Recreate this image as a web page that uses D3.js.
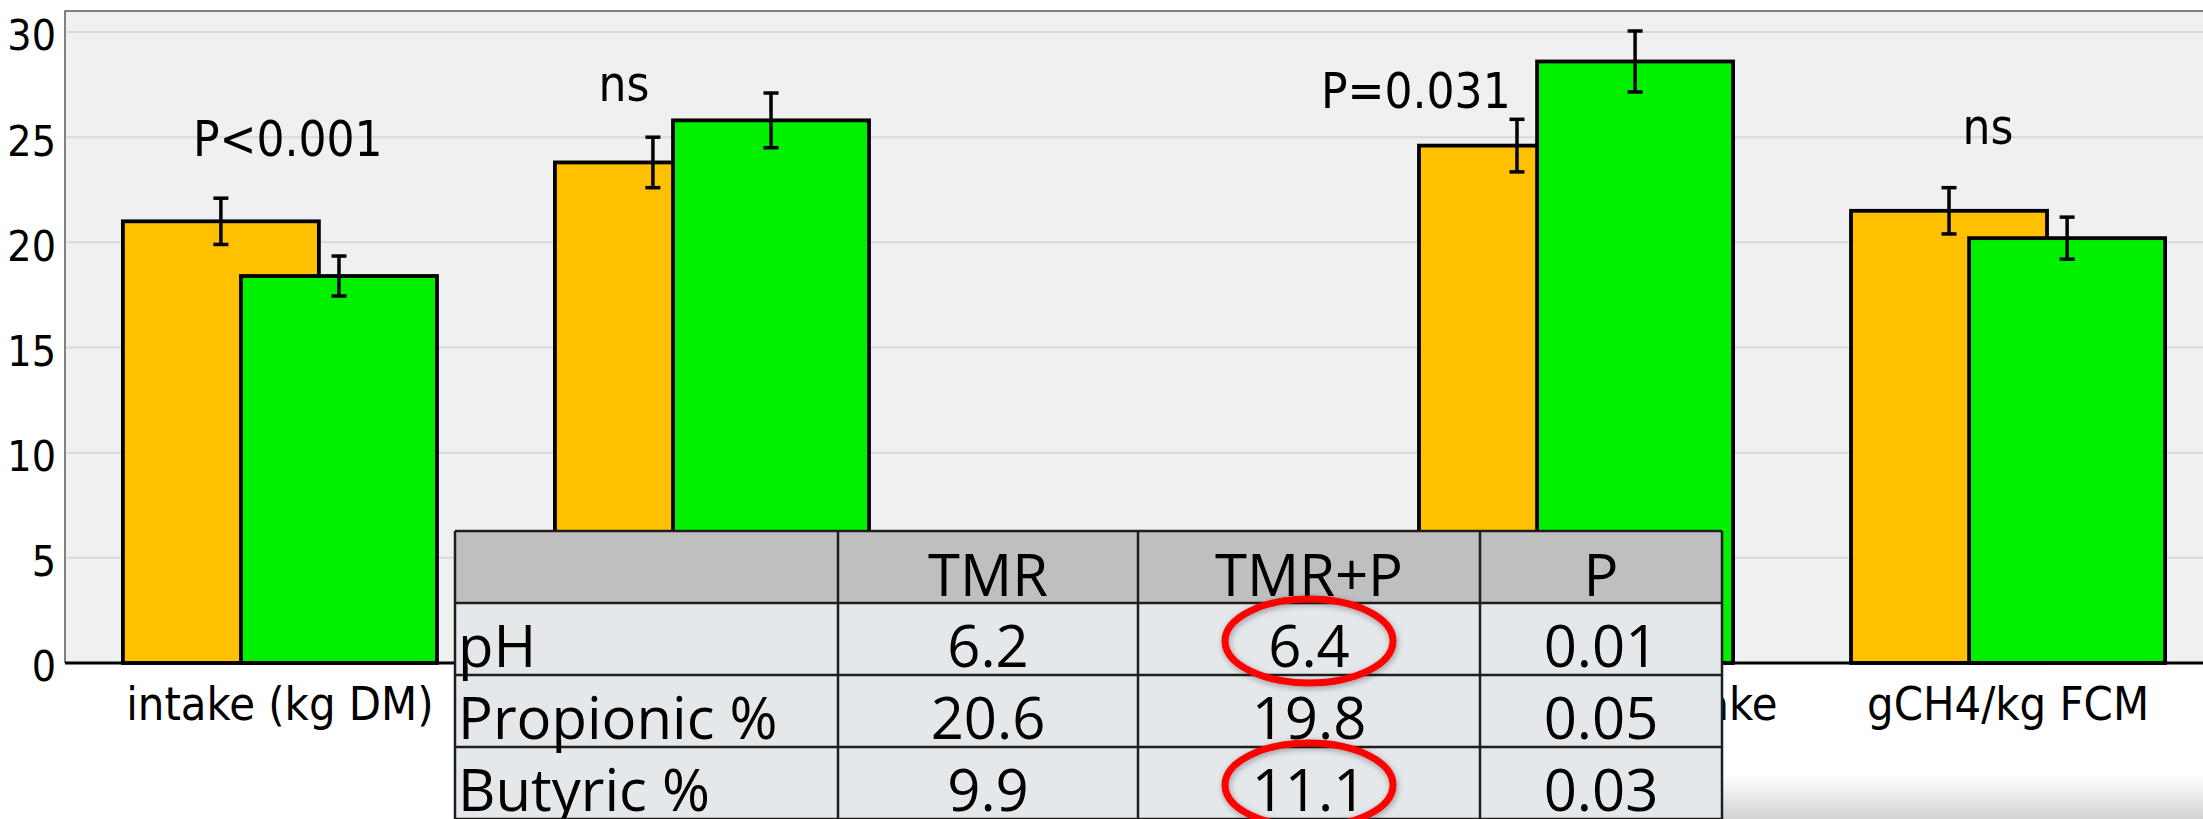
<!DOCTYPE html>
<html>
<head>
<meta charset="utf-8">
<script src="https://cdn.jsdelivr.net/npm/d3@7"></script>
<style>
  html, body { margin: 0; padding: 0; background: #ffffff; overflow: hidden; }
  .axis-text { font-family: "DejaVu Sans Condensed", "DejaVu Sans", sans-serif; font-stretch: condensed; fill: #000; }
  .table-text { font-family: "Open Sans", sans-serif; fill: #000; }
</style>
</head>
<body>
<div id="chart"></div>
<script>
/*
1. Data
*/

// categories (x axis); 2nd and 3rd labels sit under the table and are not visible
const categories = ["intake (kg DM)", "", "", "gCH4/kg DM intake", "gCH4/kg FCM"];

// bar series: TMR (orange) and TMR+P (green), null = no bar
const tmrMeans  = [21.0, 23.8, null, 24.6, 21.5];
const tmrErr    = [1.1, 1.2, null, 1.25, 1.1];
const tmrpMeans = [18.4, 25.8, null, 28.6, 20.2];
const tmrpErr   = [0.95, 1.3, null, 1.45, 1.0];

// significance labels above each group
const pLabels = ["P<0.001", "ns", "", "P=0.031", "ns"];

// y axis ticks
const yTicks = [0, 5, 10, 15, 20, 25, 30];

// rumen table
const tableHeader = ["", "TMR", "TMR+P", "P"];
const tableRows   = ["pH", "Propionic %", "Butyric %"];
const tmrCol      = ["6.2", "20.6", "9.9"];
const tmrpCol     = ["6.4", "19.8", "11.1"];
const pCol        = ["0.01", "0.05", "0.03"];
const circled     = [true, false, true];   // TMR+P values ringed in red

/*
2. Layout
*/
const W = 2203, H = 819;
const plot = { left: 65, top: 11, bottom: 663, right: 2223 };

// where the p-labels sit: x offset (share of group width from group start), y in data units
const labelPos = [[0.525, 24.1], [0.22, 26.7], [0, 0], [-0.01, 26.4], [0.436, 24.7]];

// table geometry
const tbl = { x: 455, y: 531, colW: [383, 300, 342, 242], rowH: 72 };

const svg = d3.select("#chart")
  .append("svg")
  .attr("width", W)
  .attr("height", H);

// shadow filter for the red rings
const defs = svg.append("defs");
defs.append("filter").attr("id", "ringShadow")
  .attr("x", "-20%").attr("y", "-30%").attr("width", "140%").attr("height", "160%")
  .append("feDropShadow")
  .attr("dx", 1).attr("dy", 2).attr("stdDeviation", 3)
  .attr("flood-color", "#000").attr("flood-opacity", 0.35);

const grad = defs.append("linearGradient").attr("id", "bottomShade")
  .attr("x1", 0).attr("y1", 0).attr("x2", 0).attr("y2", 1);
grad.append("stop").attr("offset", "0%").attr("stop-color", "#ffffff");
grad.append("stop").attr("offset", "100%").attr("stop-color", "#d2d2d2");

// scales
const x = d3.scaleBand()
  .domain(categories.map((d, i) => i))
  .range([plot.left, plot.right])
  .paddingInner(0.273)
  .paddingOuter(0.134);

const y = d3.scaleLinear()
  .domain([0, 31])
  .range([plot.bottom, plot.top]);

const barFrac = 0.624;              // each bar = 62.4% of group width, bars overlap
const barW = x.bandwidth() * barFrac;
const greenShift = x.bandwidth() - barW;

/*
3. Plot background, grid, axes
*/
svg.append("rect")
  .attr("x", plot.left).attr("y", plot.top)
  .attr("width", W - plot.left).attr("height", plot.bottom - plot.top)
  .attr("fill", "#f0f0f0");

svg.append("g")
  .selectAll("line")
  .data(yTicks.filter(d => d > 0))
  .enter().append("line")
  .attr("x1", plot.left).attr("x2", W)
  .attr("y1", d => y(d)).attr("y2", d => y(d))
  .attr("stroke", "#d9d9d9")
  .attr("stroke-width", 2);

// frame: top and left
svg.append("path")
  .attr("d", `M${W},${plot.top}H${plot.left}V${plot.bottom}`)
  .attr("fill", "none")
  .attr("stroke", "#5a5a5a")
  .attr("stroke-width", 1.5);

// y axis labels
const yAxis = svg.append("g")
  .attr("transform", `translate(${plot.left},0)`)
  .call(d3.axisLeft(y).tickValues(yTicks).tickSize(0).tickPadding(9));
yAxis.select(".domain").remove();
yAxis.selectAll("text")
  .attr("class", "axis-text")
  .attr("dy", "0.42em")
  .style("font-size", "42.5px");

/*
4. Bars and error bars
*/
const groups = categories.map((c, i) => ({
  i: i,
  tmr: tmrMeans[i], tmrE: tmrErr[i],
  tmrp: tmrpMeans[i], tmrpE: tmrpErr[i]
})).filter(d => d.tmr !== null);

const bars = [];
groups.forEach(g => {
  bars.push({ x: x(g.i), v: g.tmr, e: g.tmrE, fill: "#ffc000" });
  bars.push({ x: x(g.i) + greenShift, v: g.tmrp, e: g.tmrpE, fill: "#00f000" });
});

svg.append("g")
  .selectAll("rect")
  .data(bars)
  .enter().append("rect")
  .attr("x", d => d.x)
  .attr("y", d => y(d.v))
  .attr("width", barW)
  .attr("height", d => y(0) - y(d.v))
  .attr("fill", d => d.fill)
  .attr("stroke", "#000")
  .attr("stroke-width", 3.8);

// error bars
const err = svg.append("g")
  .attr("stroke", "#000")
  .attr("stroke-width", 3.5)
  .selectAll("g")
  .data(bars)
  .enter().append("g")
  .attr("transform", d => `translate(${d.x + barW / 2},0)`);
err.append("line")
  .attr("y1", d => y(d.v + d.e)).attr("y2", d => y(d.v - d.e));
err.append("line")
  .attr("x1", -7.5).attr("x2", 7.5)
  .attr("y1", d => y(d.v + d.e)).attr("y2", d => y(d.v + d.e));
err.append("line")
  .attr("x1", -7.5).attr("x2", 7.5)
  .attr("y1", d => y(d.v - d.e)).attr("y2", d => y(d.v - d.e));

// x axis line
svg.append("line")
  .attr("x1", plot.left).attr("x2", W)
  .attr("y1", y(0)).attr("y2", y(0))
  .attr("stroke", "#000")
  .attr("stroke-width", 3);

// significance labels
svg.append("g")
  .selectAll("text")
  .data(pLabels.map((t, i) => ({ t: t, i: i })).filter(d => d.t !== ""))
  .enter().append("text")
  .attr("class", "axis-text")
  .attr("x", d => x(d.i) + labelPos[d.i][0] * x.bandwidth())
  .attr("y", d => y(labelPos[d.i][1]))
  .attr("text-anchor", "middle")
  .style("font-size", "49px")
  .text(d => d.t);

// category labels
svg.append("g")
  .selectAll("text")
  .data(categories.map((c, i) => ({ c: c, i: i })).filter(d => d.c !== ""))
  .enter().append("text")
  .attr("class", "axis-text")
  .attr("x", d => x(d.i) + x.bandwidth() / 2)
  .attr("y", y(0) + 57)
  .attr("text-anchor", "middle")
  .style("font-size", "46.6px")
  .text(d => d.c);

// window shade at the bottom right
svg.append("rect")
  .attr("x", 1722).attr("y", 775)
  .attr("width", W - 1722).attr("height", H - 775)
  .attr("fill", "url(#bottomShade)");

/*
5. Table overlay
*/
const colX = [tbl.x];
tbl.colW.forEach((w, i) => colX.push(colX[i] + w));
const rowY = d3.range(tableRows.length + 2).map(i => tbl.y + i * tbl.rowH);
const tableW = colX[colX.length - 1] - tbl.x;

const table = svg.append("g");

// header + body fills
table.append("rect")
  .attr("x", tbl.x).attr("y", rowY[0])
  .attr("width", tableW).attr("height", tbl.rowH)
  .attr("fill", "#bfbfbf");
table.append("rect")
  .attr("x", tbl.x).attr("y", rowY[1])
  .attr("width", tableW).attr("height", tbl.rowH * tableRows.length)
  .attr("fill", "#e5e8eb");

// grid lines
table.selectAll(".hline")
  .data(rowY)
  .enter().append("line")
  .attr("x1", tbl.x).attr("x2", tbl.x + tableW)
  .attr("y1", d => d).attr("y2", d => d)
  .attr("stroke", "#1e1e1e").attr("stroke-width", 2.5);
table.selectAll(".vline")
  .data(colX)
  .enter().append("line")
  .attr("x1", d => d).attr("x2", d => d)
  .attr("y1", rowY[0]).attr("y2", rowY[rowY.length - 1])
  .attr("stroke", "#1e1e1e").attr("stroke-width", 2.5);

// header text
table.selectAll(".head")
  .data(tableHeader)
  .enter().append("text")
  .attr("class", "table-text")
  .attr("x", (d, i) => (colX[i] + colX[i + 1]) / 2)
  .attr("y", rowY[1] - 7)
  .attr("text-anchor", "middle")
  .style("font-size", "58px")
  .text(d => d);

// body text
const cells = [];
tableRows.forEach((r, j) => {
  [r, tmrCol[j], tmrpCol[j], pCol[j]].forEach((t, i) => cells.push({ t: t, i: i, j: j }));
});
table.selectAll(".cell")
  .data(cells)
  .enter().append("text")
  .attr("class", "table-text")
  .attr("x", d => d.i === 0 ? colX[0] + 3 : (colX[d.i] + colX[d.i + 1]) / 2)
  .attr("y", d => rowY[d.j + 2] - 8)
  .attr("text-anchor", d => d.i === 0 ? "start" : "middle")
  .style("font-size", "58px")
  .text(d => d.t);

// red rings on TMR+P values
table.selectAll(".ring")
  .data(circled.map((c, j) => ({ c: c, j: j })).filter(d => d.c))
  .enter().append("ellipse")
  .attr("cx", (colX[2] + colX[3]) / 2)
  .attr("cy", d => (rowY[d.j + 1] + rowY[d.j + 2]) / 2 + 2)
  .attr("rx", 84)
  .attr("ry", 42)
  .attr("fill", "none")
  .attr("stroke", "#ff0000")
  .attr("stroke-width", 7)
  .attr("filter", "url(#ringShadow)");
</script>
</body>
</html>
